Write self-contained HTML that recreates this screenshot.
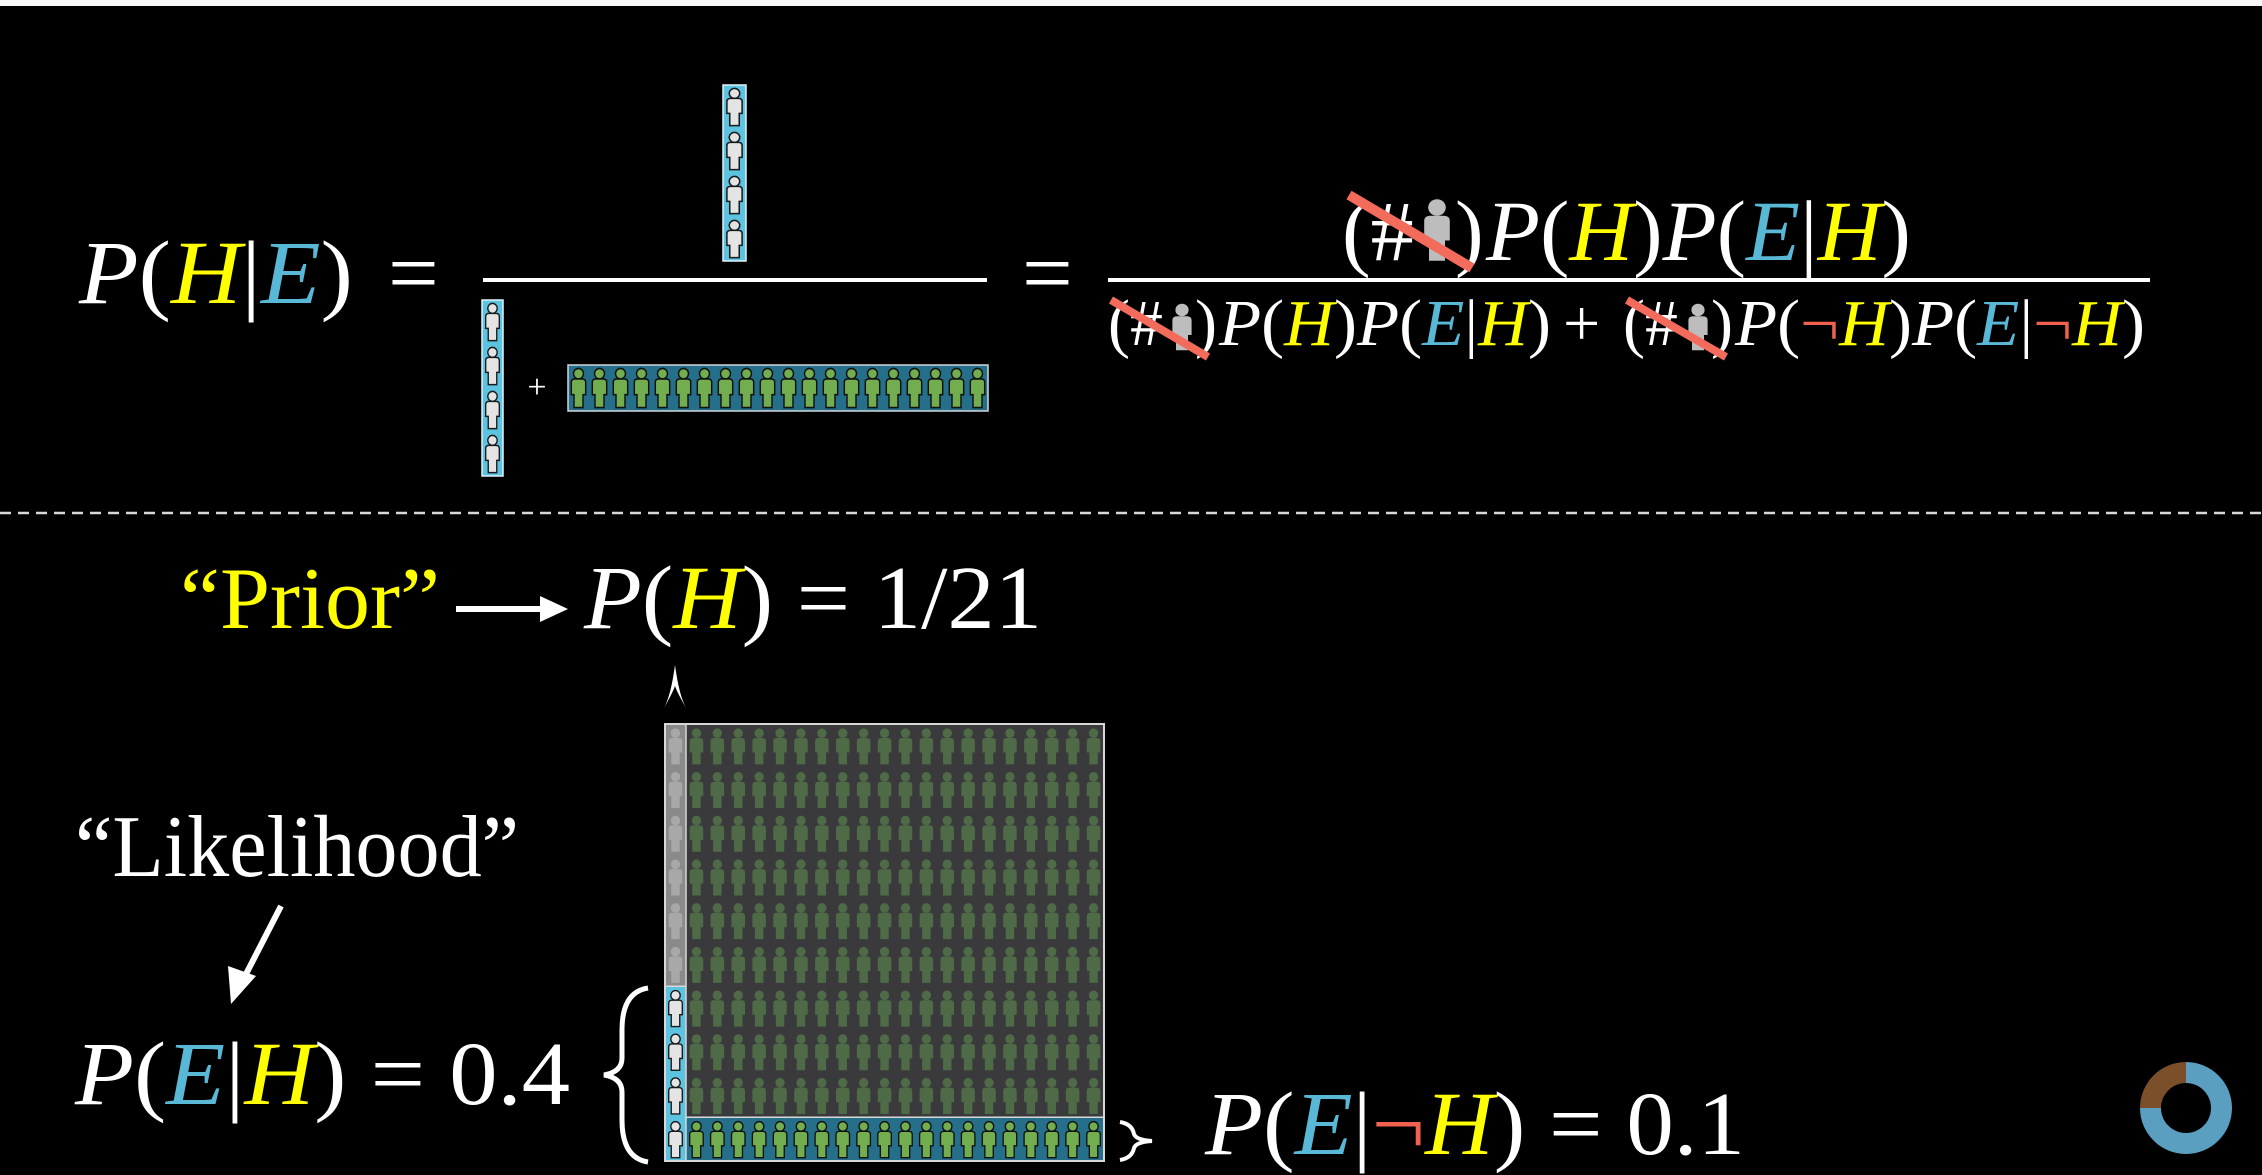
<!DOCTYPE html>
<html><head><meta charset="utf-8">
<style>
html,body{margin:0;padding:0;background:#000;}
svg{display:block;}
text{font-family:"Liberation Serif",serif;fill:#fff;}
.it{font-style:italic;}
.y{fill:#ffff00;}
.b{fill:#58b8d6;}
.r{fill:#f0624f;}
</style></head>
<body>
<svg id="scene" width="2262" height="1175" viewBox="0 0 2262 1175" xmlns="http://www.w3.org/2000/svg">
<defs>
  <symbol id="person" viewBox="0 0 20 44" preserveAspectRatio="none">
    <ellipse cx="10" cy="7" rx="5.5" ry="5.5"/>
    <path d="M2 16 Q2 12.5 6 12.5 L14 12.5 Q18 12.5 18 16 L18 29 L15 29 L15 42.5 L5 42.5 L5 29 L2 29 Z"/>
  </symbol>
</defs>
<rect x="0" y="0" width="2262" height="1175" fill="#000"/>
<rect x="0" y="0" width="2262" height="6" fill="#f7f7f7"/>

<text x="79" y="303" font-size="90" textLength="274" lengthAdjust="spacingAndGlyphs"><tspan class="it">P</tspan>(<tspan class="it y">H</tspan>|<tspan class="it b">E</tspan>)</text>
<text x="388" y="303" font-size="90">=</text>

<g id="numer-bar"></g>
<line x1="483" y1="280" x2="987" y2="280" stroke="#fff" stroke-width="4"/>
<g id="denom-bar-h"></g>
<text x="537" y="398" font-size="34" text-anchor="middle">+</text>
<g id="denom-bar-nh"></g>

<text x="1022" y="303" font-size="90">=</text>

<text x="1342" y="260" font-size="86">(#</text>
<g><use href="#person" x="1421" y="197" width="32" height="66" fill="#bdbdbd"/></g>
<text x="1455" y="260" font-size="86">)</text>
<line x1="1349" y1="195" x2="1472" y2="268" stroke="#f26b5b" stroke-width="10"/>
<text x="1486" y="260" font-size="86" textLength="425" lengthAdjust="spacingAndGlyphs"><tspan class="it">P</tspan>(<tspan class="it y">H</tspan>)<tspan class="it">P</tspan>(<tspan class="it b">E</tspan>|<tspan class="it y">H</tspan>)</text>
<line x1="1108" y1="280" x2="2150" y2="280" stroke="#fff" stroke-width="4"/>

<text x="1108" y="345" font-size="66">(#</text>
<g><use href="#person" x="1170" y="302" width="24" height="50" fill="#bdbdbd"/></g>
<text x="1195" y="345" font-size="66">)</text>
<line x1="1111" y1="300" x2="1208" y2="357" stroke="#f26b5b" stroke-width="8"/>
<text x="1219" y="345" font-size="66" textLength="332" lengthAdjust="spacingAndGlyphs"><tspan class="it">P</tspan>(<tspan class="it y">H</tspan>)<tspan class="it">P</tspan>(<tspan class="it b">E</tspan>|<tspan class="it y">H</tspan>)</text>
<text x="1563" y="345" font-size="66">+</text>
<text x="1623" y="345" font-size="66">(#</text>
<g><use href="#person" x="1686" y="302" width="24" height="50" fill="#bdbdbd"/></g>
<text x="1711" y="345" font-size="66">)</text>
<line x1="1627" y1="300" x2="1726" y2="357" stroke="#f26b5b" stroke-width="8"/>
<text x="1735" y="345" font-size="66" textLength="410" lengthAdjust="spacingAndGlyphs"><tspan class="it">P</tspan>(<tspan class="r">¬</tspan><tspan class="it y">H</tspan>)<tspan class="it">P</tspan>(<tspan class="it b">E</tspan>|<tspan class="r">¬</tspan><tspan class="it y">H</tspan>)</text>

<line x1="0" y1="513" x2="2262" y2="513" stroke="#d8d8d8" stroke-width="2.5" stroke-dasharray="11 7"/>

<text x="180" y="628" font-size="88" class="y" textLength="260" lengthAdjust="spacingAndGlyphs">“Prior”</text>
<g>
<line x1="456" y1="609" x2="545" y2="609" stroke="#fff" stroke-width="6"/>
<polygon points="540,596 568,609 540,622" fill="#fff"/>
</g>
<text x="584" y="628" font-size="90" textLength="458" lengthAdjust="spacingAndGlyphs"><tspan class="it">P</tspan>(<tspan class="it y">H</tspan>) = 1/21</text>
<path d="M675 665 Q671 695 664 708 Q673 692 675 686 Q677 692 686 708 Q679 695 675 665 Z" fill="#fff"/>

<g id="grid"></g>

<text x="75" y="876" font-size="88" textLength="444" lengthAdjust="spacingAndGlyphs">“Likelihood”</text>
<g>
<line x1="281" y1="906" x2="244" y2="978" stroke="#fff" stroke-width="6"/>
<polygon points="228,966 231,1004 256,976" fill="#fff"/>
</g>
<text x="75" y="1104" font-size="90" textLength="495" lengthAdjust="spacingAndGlyphs"><tspan class="it">P</tspan>(<tspan class="it b">E</tspan>|<tspan class="it y">H</tspan>) = 0.4</text>
<path d="M648 988 Q622 992 622 1030 L622 1058 Q622 1072 604 1075 Q622 1078 622 1092 L622 1120 Q622 1158 648 1162" fill="none" stroke="#fff" stroke-width="5"/>

<path d="M1120 1122 Q1132 1124 1134 1134 Q1136 1140 1152 1141 Q1136 1142 1134 1148 Q1132 1158 1120 1160" fill="none" stroke="#fff" stroke-width="4"/>
<text x="1205" y="1154" font-size="90" textLength="540" lengthAdjust="spacingAndGlyphs"><tspan class="it">P</tspan>(<tspan class="it b">E</tspan>|<tspan class="r">¬</tspan><tspan class="it y">H</tspan>) = 0.1</text>

<g id="ring"></g>
</svg>
<script>
const NS = 'http://www.w3.org/2000/svg';
const gridRows = 10;
const hypothesisCols = 1;
const otherCols = 20;
const evidenceRowsH = 4;
const evidenceRowsNotH = 1;
const ringSegments = [0.25, 0.75];

function mk(tag, attrs, parent){
  const el = document.createElementNS(NS, tag);
  for (const k in attrs) el.setAttribute(k, attrs[k]);
  parent.appendChild(el);
  return el;
}
function person(parent, x, y, w, h, fill, stroke){
  const u = mk('use', {href:'#person', x:x, y:y, width:w, height:h, fill:fill, stroke:stroke||'none', 'stroke-width':stroke?1.6:0}, parent);
  
  
}
function colBar(id, x, y, w, h, n){
  const g = document.getElementById(id);
  mk('rect', {x:x, y:y, width:w, height:h, fill:'#5cc3e0', stroke:'#e0f4fa', 'stroke-width':1.5}, g);
  const ch = h / n;
  for (let i = 0; i < n; i++) person(g, x+2, y + i*ch + 2, w-4, ch-4, '#e4e4e4', '#1a1a1a');
}
colBar('numer-bar', 723, 85, 23, 176, evidenceRowsH);
colBar('denom-bar-h', 482, 300, 21, 176, evidenceRowsH);
(function(){
  const g = document.getElementById('denom-bar-nh');
  const x=568, y=365, w=420, h=46;
  mk('rect', {x:x, y:y, width:w, height:h, fill:'#256f8a', stroke:'#d0d8dc', 'stroke-width':1.5}, g);
  const cw = w / otherCols;
  for (let i = 0; i < otherCols; i++) person(g, x + i*cw + 1.5, y+2, cw-3, h-4, '#72ad4f', '#111');
})();
(function(){
  const g = document.getElementById('grid');
  const X0=665, Y0=724, X1=1104, Y1=1161;
  const leftW = 21;
  const rh = (Y1-Y0)/gridRows;
  const cw = (X1-X0-leftW)/otherCols;
  mk('rect', {x:X0, y:Y0, width:X1-X0, height:Y1-Y0, fill:'#3a3a3c'}, g);
  const hStart = Y1 - evidenceRowsH*rh;
  mk('rect', {x:X0, y:Y0, width:leftW, height:hStart-Y0, fill:'#8a8a8a'}, g);
  mk('rect', {x:X0, y:hStart, width:leftW, height:Y1-hStart, fill:'#5cc3e0'}, g);
  for (let r = 0; r < gridRows; r++){
    const ev = r >= gridRows - evidenceRowsH;
    person(g, X0+2, Y0 + r*rh + 3, leftW-4, rh-5, ev ? '#e4e4e4' : '#a8a8a8', ev ? '#1a1a1a' : null);
  }
  const nStart = Y1 - evidenceRowsNotH*rh;
  mk('rect', {x:X0+leftW, y:nStart, width:X1-X0-leftW, height:Y1-nStart, fill:'#256f8a'}, g);
  for (let r = 0; r < gridRows; r++){
    const ev = r >= gridRows - evidenceRowsNotH;
    for (let c = 0; c < otherCols; c++){
      person(g, X0+leftW + c*cw + 2, Y0 + r*rh + 3, cw-4, rh-5, ev ? '#72ad4f' : '#4e6a46', ev ? '#111' : null);
    }
  }
  mk('rect', {x:X0, y:Y0, width:X1-X0, height:Y1-Y0, fill:'none', stroke:'#d8d8d8', 'stroke-width':2}, g);
  mk('line', {x1:X0+leftW, y1:Y0, x2:X0+leftW, y2:Y1, stroke:'#d8d8d8', 'stroke-width':1.5}, g);
  mk('line', {x1:X0, y1:hStart, x2:X0+leftW, y2:hStart, stroke:'#d8d8d8', 'stroke-width':1.5}, g);
  mk('line', {x1:X0+leftW, y1:nStart, x2:X1, y2:nStart, stroke:'#d8d8d8', 'stroke-width':1.5}, g);
})();
(function(){
  const g = document.getElementById('ring');
  const cx=2186, cy=1108, R=46, r=25;
  const colors=['#7a4f2a','#5a9fbf'];
  let a0 = -Math.PI/2 - ringSegments[0]*2*Math.PI;
  ringSegments.forEach((f,i)=>{
    const a1 = a0 + f*2*Math.PI;
    const big = f>0.5?1:0;
    const p = `M${cx+R*Math.cos(a0)} ${cy+R*Math.sin(a0)} A${R} ${R} 0 ${big} 1 ${cx+R*Math.cos(a1)} ${cy+R*Math.sin(a1)} L${cx+r*Math.cos(a1)} ${cy+r*Math.sin(a1)} A${r} ${r} 0 ${big} 0 ${cx+r*Math.cos(a0)} ${cy+r*Math.sin(a0)} Z`;
    const el = mk('path', {d:p, fill:colors[i]}, g);
    
    
    a0 = a1;
  });
})();
</script>
</body></html>
